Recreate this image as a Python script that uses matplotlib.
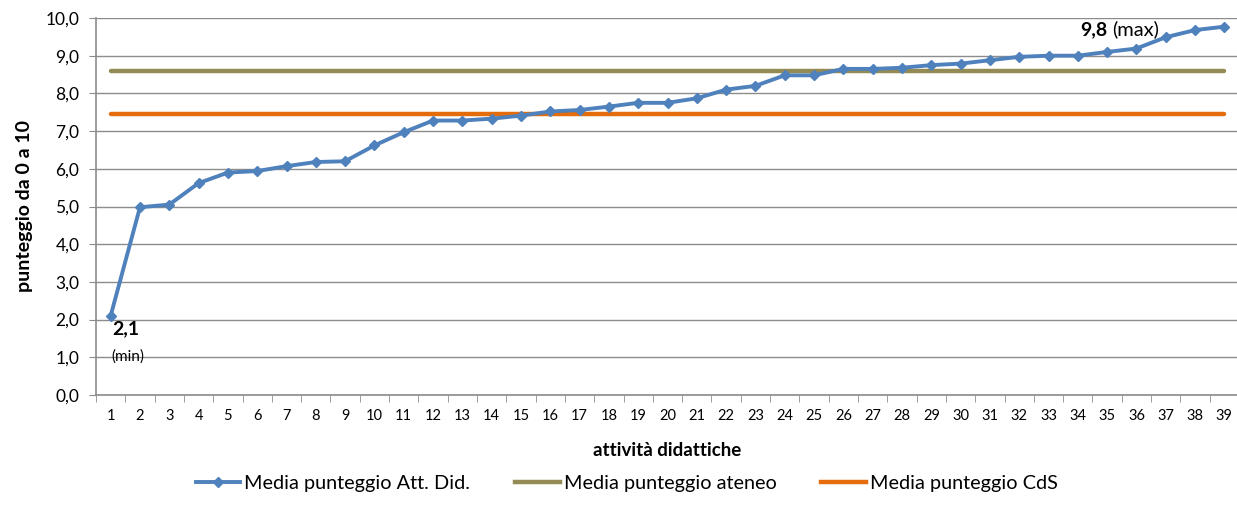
import matplotlib
matplotlib.use("Agg")
import matplotlib.pyplot as plt
from matplotlib.lines import Line2D

plt.rcParams['font.family'] = ['Lato', 'DejaVu Sans']

categories = list(range(1, 40))
media_att_did = [2.10, 4.98, 5.05, 5.62, 5.90, 5.94, 6.07, 6.18, 6.20, 6.62,
                 6.97, 7.28, 7.28, 7.33, 7.41, 7.52, 7.56, 7.65, 7.75, 7.75,
                 7.87, 8.10, 8.20, 8.48, 8.48, 8.65, 8.65, 8.68, 8.75, 8.79,
                 8.88, 8.97, 9.00, 9.00, 9.10, 9.19, 9.49, 9.68, 9.77]
media_ateneo = 8.60
media_cds = 7.45
y_ticks = [0, 1, 2, 3, 4, 5, 6, 7, 8, 9, 10]
y_ticklabels = ["0,0", "1,0", "2,0", "3,0", "4,0", "5,0", "6,0", "7,0", "8,0", "9,0", "10,0"]

W, H = 1237, 522
fig = plt.figure(figsize=(W / 100, H / 100), dpi=100)
ax = fig.add_axes([96 / W, (H - 395) / H, 1143 / W, 377 / H])

blue = '#4F81BD'
olive = '#948A54'
orange = '#E46C0A'
grid = '#8C8C8C'

ax.plot(categories, [media_ateneo] * len(categories), color=olive, lw=3.2,
        solid_capstyle='round', zorder=2)
ax.plot(categories, [media_cds] * len(categories), color=orange, lw=3.2,
        solid_capstyle='round', zorder=3)
ax.plot(categories, media_att_did, color=blue, lw=2.8, marker='D', ms=5.5,
        markeredgecolor=blue, zorder=4)

ax.set_xlim(0.5, 39.5)
ax.set_ylim(0, 10)
ax.set_yticks(y_ticks)
ax.set_yticklabels(y_ticklabels, fontsize=12.5)
ax.set_xticks(categories)
ax.set_xticklabels([str(c) for c in categories], fontsize=10.5)
ax.set_xticks([c + 0.5 for c in [0] + categories], minor=True)
ax.tick_params(axis='x', which='major', length=0, pad=10)
ax.tick_params(axis='x', which='minor', length=5, color=grid, direction='out')
ax.tick_params(axis='y', length=5, color=grid, direction='out', pad=7)
ax.yaxis.grid(True, color=grid, lw=1.0)
ax.set_axisbelow(True)
for s in ['top', 'right']:
    ax.spines[s].set_visible(False)
for s in ['left', 'bottom']:
    ax.spines[s].set_color(grid)
    ax.spines[s].set_linewidth(1.2)

ax.set_ylabel('punteggio da 0 a 10', fontsize=14, fontweight='bold', labelpad=9)
ax.set_xlabel('attività didattiche', fontsize=13.5, fontweight='bold', labelpad=14)

imin = media_att_did.index(min(media_att_did))
imax = media_att_did.index(max(media_att_did))
pmin = (categories[imin], media_att_did[imin])
pmax = (categories[imax], media_att_did[imax])
ax.annotate('2,1', xy=pmin, xytext=(1.5, -9), textcoords='offset points',
            fontsize=14, fontweight='bold', va='center', ha='left')
ax.annotate('(min)', xy=pmin, xytext=(0.5, -29), textcoords='offset points',
            fontsize=11, va='center', ha='left')
ax.annotate('9,8', xy=pmax, xytext=(-104, -2), textcoords='offset points',
            fontsize=14, fontweight='bold', va='center', ha='left')
ax.annotate('(max)', xy=pmax, xytext=(-81, -2), textcoords='offset points',
            fontsize=14.5, va='center', ha='left')

handles = [
    Line2D([], [], color=blue, lw=2.8, marker='D', ms=5.5, markevery=[1], markeredgecolor=blue),
    Line2D([], [], color=olive, lw=3.2),
    Line2D([], [], color=orange, lw=3.2),
]
labels = ['Media punteggio Att. Did.', 'Media punteggio ateneo', 'Media punteggio CdS']
fig.legend(handles, labels, loc='center', bbox_to_anchor=(0.5 + 8 / W, (H - 483) / H), ncol=3,
           frameon=False, fontsize=14.3, handlelength=2.25, handletextpad=0.2,
           columnspacing=2.25)

fig.savefig('out.png', dpi=100)
